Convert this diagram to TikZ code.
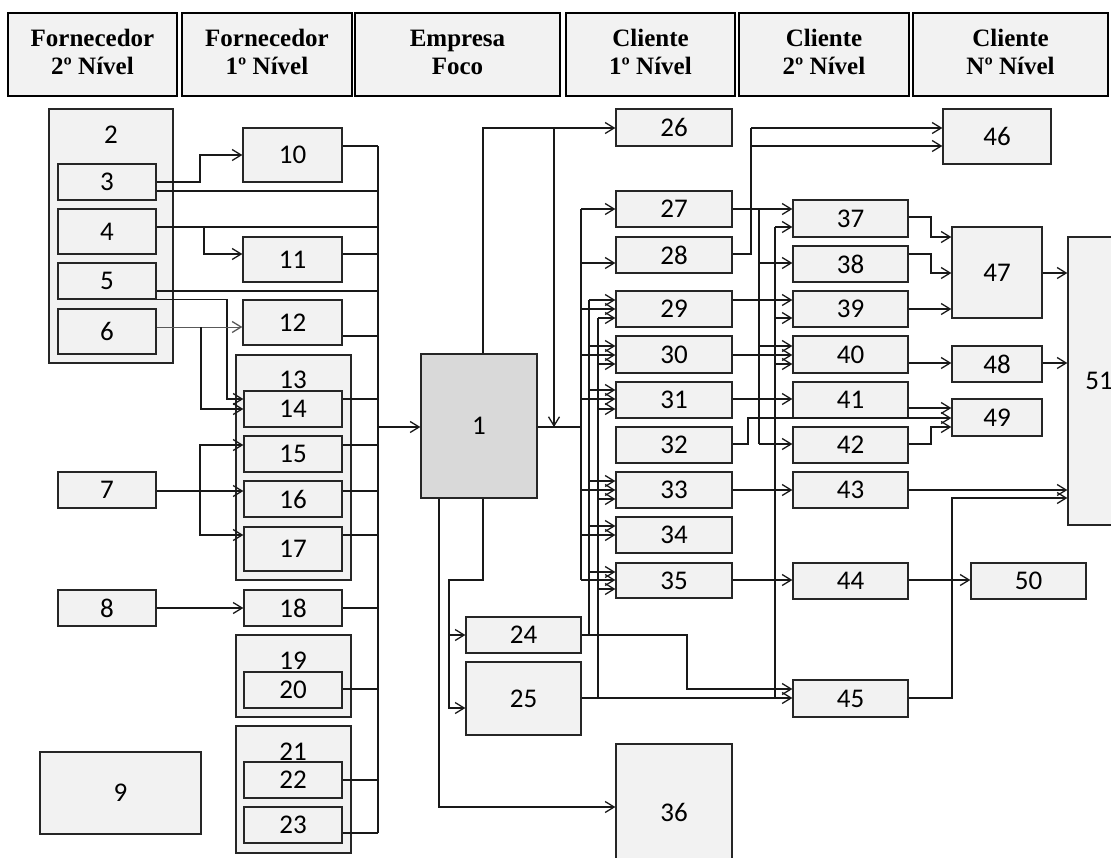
\documentclass[tikz,border=0pt]{standalone}
\usepackage{fontspec}
\setmainfont{Carlito}
\newfontfamily\hdfont{Liberation Serif}
\usetikzlibrary{arrows.meta}
\newcommand\bx[7][]{\node[boxst,#1,minimum width={#5-#3},minimum height={#6-#4}] (#2) at ({(#3+#5)/2},{(#4+#6)/2}) {#7};}
\begin{document}
\begin{tikzpicture}[x=1pt,y=-1pt,
 boxst/.style={draw=black!85, line width=1.3pt, fill=gray!10, inner sep=0pt, font=\fontsize{27}{29}\selectfont},
 hd/.style={draw=black, line width=2.8pt, fill=gray!10, align=center, font=\hdfont\bfseries\fontsize{25}{28}\selectfont},
 foco/.style={fill=gray!30},
 lbl/.style={inner sep=0pt, font=\fontsize{27}{29}\selectfont},
 ln/.style={line width=1.3pt, draw=black!90},
 ar/.style={ln, -{Straight Barb[length=9pt,width=11pt,line width=1.3pt]}},
 thin/.style={line width=0.9pt, draw=black!65},
]
\useasboundingbox (0,0) rectangle (1111,857);
\clip (0,0) rectangle (1111,857);
% headers
\bx[hd]{h1}{8}{13}{177}{96}{\strut Fornecedor\\2º Nível\strut}
\bx[hd]{h2}{182}{13}{352}{96}{\strut Fornecedor\\1º Nível\strut}
\bx[hd]{h3}{355}{13}{560}{96}{\strut Empresa\\Foco\strut}
\bx[hd]{h4}{566}{13}{735}{96}{\strut Cliente\\1º Nível\strut}
\bx[hd]{h5}{739}{13}{909}{96}{\strut Cliente\\2º Nível\strut}
\bx[hd]{h6}{913}{13}{1108}{96}{\strut Cliente\\Nº Nível\strut}
% containers
\bx{n2}{49}{109}{173}{363}{}
\node[lbl] (n2l) at (111,135) {2};
\bx{n13}{236}{355}{351}{580}{}
\node[lbl] (n13l) at (293,380) {13};
\bx{n19}{236}{635}{351}{717}{}
\node[lbl] (n19l) at (293,661) {19};
\bx{n21}{236}{726}{351}{853}{}
\node[lbl] (n21l) at (293,752) {21};
% supplier boxes
\bx{n3}{58}{164}{156}{200}{3}
\bx{n4}{58}{209}{156}{254}{4}
\bx{n5}{58}{263}{156}{299}{5}
\bx{n6}{58}{309}{156}{354}{6}
\bx{n7}{58}{472}{156}{508}{7}
\bx{n8}{58}{590}{156}{626}{8}
\bx{n9}{40}{752}{201}{834}{9}
\bx{n10}{243}{128}{342}{182}{10}
\bx{n11}{243}{237}{342}{282}{11}
\bx{n12}{243}{300}{342}{345}{12}
\bx{n14}{244}{391}{342}{427}{14}
\bx{n15}{244}{436}{342}{472}{15}
\bx{n16}{244}{481}{342}{517}{16}
\bx{n17}{244}{527}{342}{571}{17}
\bx{n18}{244}{590}{342}{626}{18}
\bx{n20}{244}{672}{342}{708}{20}
\bx{n22}{244}{762}{342}{798}{22}
\bx{n23}{244}{807}{342}{843}{23}
% focal company
\bx[foco]{n1}{421}{354}{537}{498}{1}
\bx{n24}{466}{617}{581}{653}{24}
\bx{n25}{466}{662}{581}{735}{25}
% first-level clients
\bx{n26}{616}{109}{732}{146}{26}
\bx{n27}{616}{191}{732}{227}{27}
\bx{n28}{616}{237}{732}{273}{28}
\bx{n29}{616}{291}{732}{327}{29}
\bx{n30}{616}{336}{732}{373}{30}
\bx{n31}{616}{382}{732}{418}{31}
\bx{n32}{616}{427}{732}{463}{32}
\bx{n33}{616}{472}{732}{508}{33}
\bx{n34}{616}{517}{732}{553}{34}
\bx{n35}{616}{563}{732}{598}{35}
\bx{n36}{616}{744}{732}{880}{36}
% second-level clients
\bx{n37}{793}{200}{908}{237}{37}
\bx{n38}{793}{246}{908}{282}{38}
\bx{n39}{793}{291}{908}{327}{39}
\bx{n40}{793}{336}{908}{373}{40}
\bx{n41}{793}{382}{908}{418}{41}
\bx{n42}{793}{427}{908}{463}{42}
\bx{n43}{793}{472}{908}{508}{43}
\bx{n44}{793}{563}{908}{599}{44}
\bx{n45}{793}{680}{908}{717}{45}
% n-level clients
\bx{n46}{943}{109}{1051}{164}{46}
\bx{n47}{952}{227}{1042}{318}{47}
\bx{n48}{952}{346}{1042}{382}{48}
\bx{n49}{952}{399}{1042}{436}{49}
\bx{n50}{971}{563}{1086}{599}{50}
\bx{n51}{1068}{237}{1130}{525}{51}
% ---- connectors, left side
\draw[ar] (n3.east |- 0,182) -- (200,182) |- (n10.west |- 0,155);
\draw[ln] (n3.east |- 0,191) -- (378,191);
\draw[ln] (n4.east |- 0,227) -- (378,227);
\draw[ar] (204,227) |- (n11.west |- 0,254);
\draw[ln] (n5.east |- 0,291) -- (378,291);
\draw[ar] (n5.south east) -| (227,399) -- (n14.west |- 0,399);
\draw[ar,thin] (n6.east |- 0,327) -- (n12.west |- 0,327);
\draw[ar] (201,327) |- (n14.west |- 0,409);
\draw[ar] (n7.east |- 0,491) -- (n16.west |- 0,491);
\draw[ar] (200,491) |- (n15.west |- 0,445);
\draw[ar] (200,491) |- (n17.west |- 0,535);
\draw[ar] (n8.east |- 0,608) -- (n18.west |- 0,608);
\coordinate (busL) at (378,427);
\draw[ln] (378,146) -- (378,833);
\foreach \s/\y in {n10/146,n11/254,n12/336,n14/399,n15/445,n16/491,n17/535,n18/608,n20/689,n22/780,n23/833}
  \draw[ln] (\s.east |- 0,\y) -- (378,\y);
\draw[ar] (busL) -- (n1.west |- busL);
% ---- focal company outputs
\draw[ar] (n1.north -| 483,0) |- (n26.west |- 0,128);
\draw[ar] (554,128) -- (554,427);
\draw[ln] (n1.east |- 0,427) -- (581,427);
\draw[ln] (581,209) -- (581,580);
\foreach \t/\y in {n27/209,n28/263,n29/309,n30/355,n31/399,n33/490,n34/535,n35/580}
  \draw[ar] (581,\y) -- (\t.west |- 0,\y);
\draw[ln] (589,300) -- (589,635);
\foreach \t/\y in {n29/300,n30/346,n31/390,n33/481,n34/526,n35/572}
  \draw[ar] (589,\y) -- (\t.west |- 0,\y);
\draw[ln] (598,318) -- (598,698);
\foreach \t/\y in {n29/318,n30/364,n31/409,n33/499,n35/589}
  \draw[ar] (598,\y) -- (\t.west |- 0,\y);
\draw[ar] (n1.south -| 483,0) -- (483,580) -- (449,580) |- (n24.west |- 0,635);
\draw[ar] (449,635) |- (n25.west |- 0,708);
\draw[ar] (n1.south -| 439,0) |- (n36.west |- 0,807);
\draw[ar] (n24.east |- 0,635) -- (687,635) |- (n45.west |- 0,689);
\draw[ar] (n25.east |- 0,698) -- (n45.west |- 0,698);
% ---- first-level to second-level
\draw[ar] (n27.east |- 0,209) -- (n37.west |- 0,209);
\draw[ln] (759,209) -- (759,444);
\draw[ar] (759,263) -- (n38.west |- 0,263);
\draw[ar] (759,346) -- (n40.west |- 0,346);
\draw[ar] (759,444) -- (n42.west |- 0,444);
\draw[ln] (n28.east |- 0,254) -- (751,254) -- (751,128);
\draw[ar] (751,128) -- (n46.west |- 0,128);
\draw[ar] (751,146) -- (n46.west |- 0,146);
\draw[ar] (n29.east |- 0,300) -- (n39.west |- 0,300);
\draw[ar] (n30.east |- 0,355) -- (n40.west |- 0,355);
\draw[ar] (n31.east |- 0,399) -- (n41.west |- 0,399);
\draw[ar] (n32.east |- 0,444) -- (748,444) |- (n49.west |- 0,418);
\draw[ar] (n33.east |- 0,490) -- (n43.west |- 0,490);
\draw[ar] (n35.east |- 0,580) -- (n44.west |- 0,580);
\draw[ln] (775,698) -- (775,227);
\draw[ar] (775,227) -- (n37.west |- 0,227);
\draw[ar] (775,318) -- (n39.west |- 0,318);
\draw[ar] (775,364) -- (n40.west |- 0,364);
% ---- second-level to n-level
\draw[ar] (n37.east |- 0,217) -- (931,217) |- (n47.west |- 0,237);
\draw[ar] (n38.east |- 0,254) -- (931,254) |- (n47.west |- 0,273);
\draw[ar] (n39.east |- 0,309) -- (n47.west |- 0,309);
\draw[ar] (n40.east |- 0,363) -- (n48.west |- 0,363);
\draw[ar] (n41.east |- 0,408) -- (n49.west |- 0,408);
\draw[ar] (n42.east |- 0,444) -- (931,444) |- (n49.west |- 0,427);
\draw[ar] (n43.east |- 0,490) -- (n51.west |- 0,490);
\draw[ar] (n44.east |- 0,580) -- (n50.west |- 0,580);
\draw[ar] (n45.east |- 0,698) -- (952,698) |- (n51.west |- 0,498);
\draw[ar] (n47.east |- 0,273) -- (n51.west |- 0,273);
\draw[ar] (n48.east |- 0,363) -- (n51.west |- 0,363);
\end{tikzpicture}
\end{document}
